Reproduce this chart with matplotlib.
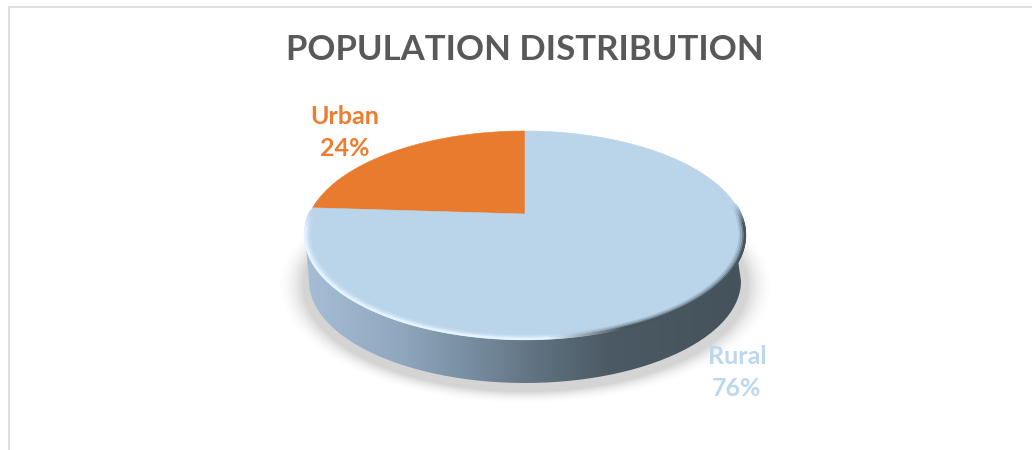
import matplotlib
matplotlib.use("Agg")
import matplotlib.pyplot as plt
import numpy as np
from matplotlib.collections import LineCollection
from matplotlib.colors import LinearSegmentedColormap, to_rgb
from matplotlib.patches import PathPatch, Polygon
from matplotlib.path import Path

# data
categories = ["Urban", "Rural"]
shares = [24, 76]
title = "POPULATION DISTRIBUTION"

slice_colors = ["#e97b2e", "#bad4ea"]
label_colors = ["#ed7d31", "#bdd7ee"]
label_pos = [(345, 117, 149), (737, 356, 389)]

# tilted disc, in pixels: apex, top and bottom of the top face
CX, APEX_Y, TOP_Y, BOT_Y, RX = 525, 214, 131, 339, 220
persp = (TOP_Y + BOT_Y - APEX_Y * 2) / (BOT_Y - TOP_Y)
slope = TOP_Y + TOP_Y * persp - APEX_Y
half_w = RX * np.sqrt(1 - persp ** 2)


def disc(frac, r=1.0):
    """Fraction of the way round (counter-clockwise from 12 o'clock) to pixels."""
    t = 2 * np.pi * np.asarray(frac)
    u, v = -r * np.sin(t), r * np.cos(t)
    w = 1 + persp * v
    return CX + half_w * u / w, (APEX_Y + slope * v) / w


fig = plt.figure(figsize=(10.32, 4.5), dpi=100)
ax = fig.add_axes([0, 0, 1, 1])
ax.set_xlim(0, 1032)
ax.set_ylim(450, 0)
ax.axis("off")

# chart frame, cut off on the right and bottom
ax.plot([9, 9, 1032], [450, 6.5, 6.5], color="#dcdcdc", lw=1.3, solid_joinstyle="miter")

# soft shadow
SX, SY, SRX, SRY = 525, 285, 222, 106
yy, xx = np.mgrid[220:420, 270:780]
dist = (np.sqrt(((xx - SX) / SRX) ** 2 + ((yy - SY) / SRY) ** 2) - 1) * SRY
shadow = np.zeros(xx.shape + (4,))
shadow[..., :3] = 0.35
shadow[..., 3] = 0.26 * np.clip(1 - dist / 13, 0, 1) ** 2
ax.imshow(shadow, extent=(270, 780, 420, 220), interpolation="bilinear", zorder=1, aspect="auto")

# side wall with a left to right gradient
BX, BY, BRX, BRY = 525, 281, 216, 102
a = np.linspace(np.pi, 0, 120)
low_x, low_y = BX + BRX * np.cos(a), BY + BRY * np.sin(a)
rim_x, rim_y = disc(np.linspace(0.78, 1.28, 360))
wall = np.column_stack([np.r_[low_x, rim_x], np.r_[low_y, rim_y]])
wall_patch = PathPatch(Path(wall), fc="none", ec="none", zorder=2)
ax.add_patch(wall_patch)
stops = [(0, "#a5bed6"), (0.22, "#8fa7bd"), (0.4, "#73899b"), (0.53, "#5f7181"),
         (0.69, "#4b5a64"), (1, "#45525b")]
wall_cmap = LinearSegmentedColormap.from_list("wall", stops)
grad = ax.imshow(np.linspace(0, 1, 256)[None, :], cmap=wall_cmap, extent=(305, 745, 390, 200),
                 aspect="auto", zorder=2)
grad.set_clip_path(wall_patch)

# top face, one slice per share
start = 0.0
for share, col in zip(shares, slice_colors):
    fr = np.linspace(start, start + share / sum(shares), 200)
    sx, sy = disc(fr)
    ax.add_patch(Polygon(np.column_stack([np.r_[CX, sx], np.r_[APEX_Y, sy]]),
                         fc=col, ec=col, lw=0.4, zorder=3))
    start += share / sum(shares)

# bevel on the lower rim: light on the left, dark on the right
face = np.array(to_rgb(slice_colors[1]))
light = np.array(to_rgb("#e4f4ff"))
dark = np.array(to_rgb("#47555e"))
fr_start, fr_end = 0.245, 0.765
fr = np.linspace(fr_start, fr_end, 500)
for r, strength, lw in [(0.98, 0.15, 2.0), (0.987, 0.35, 2.0), (0.994, 0.65, 1.8), (1.0, 1.0, 1.6)]:
    px, py = disc(fr, r)
    seg = np.stack([np.column_stack([px[:-1], py[:-1]]), np.column_stack([px[1:], py[1:]])], axis=1)
    m = (px[:-1] - CX) / RX
    k = np.clip((m - 0.1) / 0.35, 0, 1)[:, None]
    edge = light * (1 - k) + dark * k
    fade = np.clip(np.minimum(fr[:-1] - fr_start, fr_end - fr[:-1]) / 0.03, 0, 1)[:, None]
    w = strength * fade
    cols = face * (1 - w) + edge * w
    ax.add_collection(LineCollection(seg, colors=cols, linewidths=lw, zorder=4, capstyle="round"))

ax.text(525, 50, title, ha="center", va="center", fontsize=25, fontweight="bold",
        family="Lato", color="#595959", zorder=5)
for cat, share, col, (lx, y1, y2) in zip(categories, shares, label_colors, label_pos):
    ax.text(lx, y1, cat, ha="center", va="center", fontsize=18, fontweight="bold",
            family="Lato", color=col, zorder=5)
    ax.text(lx, y2, f"{share}%", ha="center", va="center", fontsize=18, fontweight="bold",
            family="Lato", color=col, zorder=5)

ax.set_xlim(0, 1032)
ax.set_ylim(450, 0)
fig.savefig("out.png", dpi=100)
